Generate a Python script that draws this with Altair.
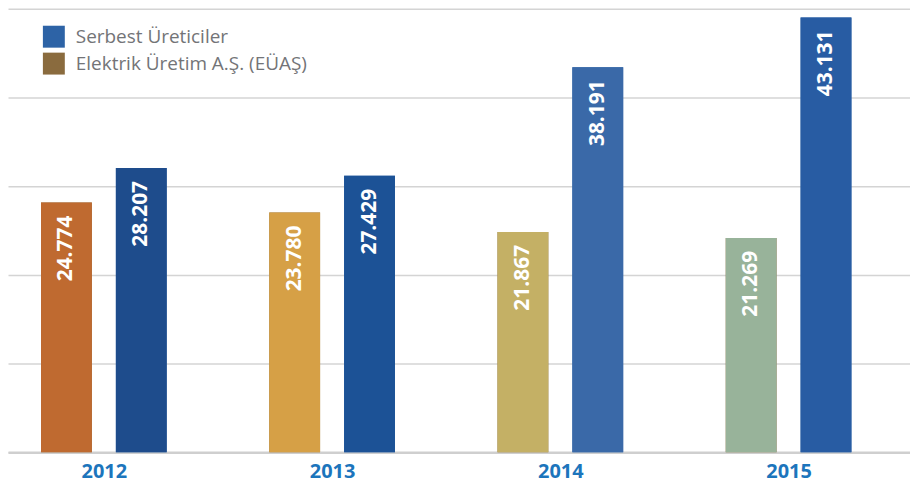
import altair as alt
import pandas as pd

years = [2012, 2013, 2014, 2015]
serbest = [28207, 27429, 38191, 43131]
euas = [24774, 23780, 21867, 21269]
series_names = ["Serbest Üreticiler", "Elektrik Üretim A.Ş. (EÜAŞ)"]
y_ticks = [0, 8800, 17600, 26400, 35200, 44000]

rows = []
for i, yr in enumerate(years):
    rows.append({"year": yr, "series": series_names[1], "value": euas[i]})
    rows.append({"year": yr, "series": series_names[0], "value": serbest[i]})
df = pd.DataFrame(rows)
df["label"] = df["value"].map(lambda v: f"{v:,}".replace(",", "."))
df["key"] = df["series"].str[:3] + df["year"].astype(str)

fill_domain = ["Ser2012", "Ser2013", "Ser2014", "Ser2015",
               "Ele2012", "Ele2013", "Ele2014", "Ele2015"]
fill_range = ["#1e4c8c", "#1c5296", "#3a69a8", "#285ca3",
              "#bf6a30", "#d6a046", "#c4b065", "#98b39a"]
legend_colors = ["#2d63a6", "#8a6b3e"]

base = alt.Chart(df).transform_calculate(
    pos="datum.year + (datum.series == 'Serbest Üreticiler' ? 0.164 : -0.164)"
)

x = alt.X(
    "pos:Q",
    scale=alt.Scale(domain=[2011.58, 2015.532], nice=False, zero=False, padding=0),
    axis=alt.Axis(values=years, format="d", title=None, ticks=False, grid=False,
                  domain=True, domainColor="#cfcfcf", domainWidth=2.5,
                  labelFontSize=20, labelFontWeight="bold", labelColor="#1c75bc",
                  labelFont="Open Sans", labelPadding=9, labelFlush=False),
)
y = alt.Y(
    "value:Q",
    stack=None,
    scale=alt.Scale(domain=[0, 44000], nice=False),
    axis=alt.Axis(values=y_ticks, title=None, labels=False, ticks=False,
                  domain=False, grid=True, gridColor="#d4d4d4", gridWidth=1.5),
)

legend_layer = base.mark_bar(size=51, orient="vertical").encode(
    x=x, y=y,
    color=alt.Color(
        "series:N",
        scale=alt.Scale(domain=series_names, range=legend_colors),
        legend=alt.Legend(title=None, orient="none", legendX=35, legendY=17,
                          symbolType="square", symbolSize=484, symbolStrokeWidth=0,
                          labelFontSize=19, labelFont="Open Sans",
                          labelColor="#737477", labelOffset=11, rowPadding=5,
                          padding=0, labelLimit=0),
    ),
)

bars = base.mark_bar(size=51, orient="vertical").encode(
    x=x, y=y,
    fill=alt.Fill("key:N", scale=alt.Scale(domain=fill_domain, range=fill_range),
                  legend=None),
)

labels = base.mark_text(angle=270, align="right", baseline="middle", dx=-13,
                        fontSize=21, fontWeight="bold", color="white",
                        font="Open Sans").encode(x=x, y=y, text="label:N")

chart = alt.layer(legend_layer, bars, labels).properties(
    width=905, height=474, padding=0,
    autosize=alt.AutoSizeParams(type="fit", contains="padding"),
).configure_view(stroke=None)

chart.save("out.html", embed_options={"renderer": "svg", "actions": False})
